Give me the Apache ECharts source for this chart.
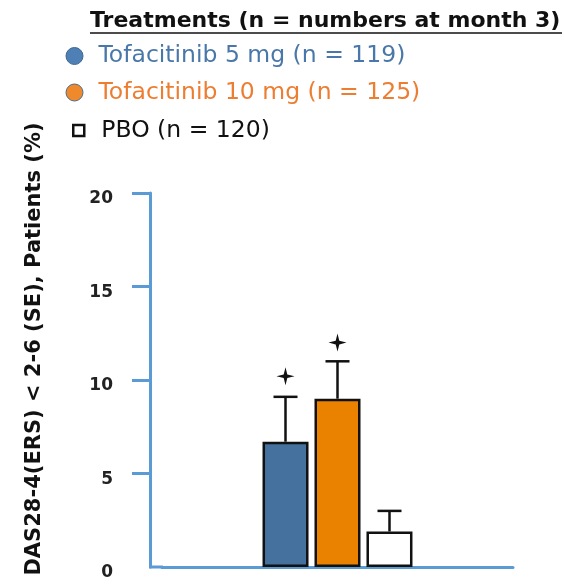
<!DOCTYPE html>
<html>
<head>
<meta charset="utf-8">
<script src="https://cdn.jsdelivr.net/npm/echarts@6/dist/echarts.min.js"></script>
<style>
  html, body { margin: 0; padding: 0; background: #fff; }
  #chart { width: 564px; height: 584px; }
</style>
</head>
<body>
<div id="chart"></div>
<script>
// Patients reaching DAS28-4(ESR) < 2.6 at month 3, by treatment arm
const treatments = ['Tofacitinib 5 mg (n = 119)', 'Tofacitinib 10 mg (n = 125)', 'PBO (n = 120)'];
const responders = [6.7, 9.0, 1.9];        // % of patients
const upperSE = [9.1, 11.0, 3.0];          // bar value + SE
const significance = [10.2, 12.0, null];   // position of the significance mark
const yTicks = [0, 5, 10, 15, 20];

const barColors = ['#44719e', '#ea8200', '#ffffff'];
const textColors = ['#4a77a9', '#ec7d31', '#111111'];
const BAR_W = 46, BAR_GAP = 6;
const FONT = 'DejaVu Sans';

const chart = echarts.init(document.getElementById('chart'));

const barSeries = treatments.map((name, i) => ({
  name: name,
  type: 'bar',
  barWidth: BAR_W,
  barGap: (BAR_GAP / BAR_W * 100).toFixed(1) + '%',
  data: [responders[i]],
  itemStyle: { color: barColors[i], borderColor: '#111', borderWidth: 2.5 },
  z: 2
}));

// SE whiskers with caps, plus the significance marks above them
const errorSeries = {
  type: 'custom',
  z: 3,
  silent: true,
  data: treatments.map((t, i) => [0, responders[i], upperSE[i], significance[i] == null ? NaN : significance[i]]),
  renderItem: function (params, api) {
    const i = params.dataIndex;
    const cx = api.coord([0, 0])[0] + (i - (treatments.length - 1) / 2) * (BAR_W + BAR_GAP);
    const yBar = api.coord([0, api.value(1)])[1];
    const yErr = api.coord([0, api.value(2)])[1];
    const stroke = { stroke: '#111', lineWidth: 2.5 };
    const children = [
      { type: 'line', shape: { x1: cx, y1: yBar, x2: cx, y2: yErr }, style: stroke },
      { type: 'line', shape: { x1: cx - 12, y1: yErr, x2: cx + 12, y2: yErr }, style: stroke }
    ];
    const m = api.value(3);
    if (!isNaN(m)) {
      const cy = api.coord([0, m])[1];
      const r = 9, w = 1.8;
      children.push({
        type: 'polygon',
        shape: { points: [[cx, cy - r], [cx + w, cy - w], [cx + r, cy], [cx + w, cy + w],
                          [cx, cy + r], [cx - w, cy + w], [cx - r, cy], [cx - w, cy - w]] },
        style: { fill: '#111' }
      });
    }
    return { type: 'group', children: children };
  }
};

function legendFor(i, top, left, size, gap, icon, itemStyle) {
  return {
    orient: 'vertical', left: left, top: top, padding: 0,
    itemWidth: size, itemHeight: size,
    selectedMode: false,
    data: [{ name: treatments[i], icon: icon, itemStyle: itemStyle,
             textStyle: { color: textColors[i] } }],
    textStyle: { fontFamily: FONT, fontSize: 23.5, padding: [0, 0, 0, gap] }
  };
}

chart.setOption({
  animation: false,
  grid: { left: 162, right: 51, top: 193, bottom: 17 },
  title: {
    text: 'Treatments (n = numbers at month 3)',
    left: 85, top: 5.5,
    textStyle: { fontFamily: FONT, fontWeight: 'bold', fontSize: 22, color: '#111' }
  },
  legend: [
    legendFor(0, 44, 65.5, 17, 10.5, 'circle', { color: '#4f80b5', borderColor: '#3a6792', borderWidth: 1 }),
    legendFor(1, 80.5, 65.5, 17, 10.5, 'circle', { color: '#ef8a2c', borderColor: '#4a6a8a', borderWidth: 1 }),
    legendFor(2, 118.5, 72, 11, 12, 'rect', { color: '#fff', borderColor: '#111', borderWidth: 2.5 })
  ],
  xAxis: {
    type: 'category',
    data: [''],
    axisLine: { lineStyle: { color: '#5b9bd5', width: 3 } },
    axisTick: { show: false },
    axisLabel: { show: false }
  },
  yAxis: {
    type: 'value',
    offset: 12,
    min: yTicks[0], max: yTicks[yTicks.length - 1], interval: yTicks[1] - yTicks[0],
    splitLine: { show: false },
    axisLine: { show: true, lineStyle: { color: '#5b9bd5', width: 3 } },
    axisTick: { show: true, inside: false, length: 18, customValues: yTicks.slice(1),
                lineStyle: { color: '#5b9bd5', width: 3 } },
    axisLabel: { margin: 37, verticalAlign: 'top', lineHeight: 12,
                 fontFamily: FONT, fontWeight: 'bold', fontSize: 17, color: '#222' }
  },
  graphic: [
    {
      // underline of the legend heading
      type: 'line', x: 90, y: 33,
      shape: { x1: 0, y1: 0, x2: 472, y2: 0 },
      style: { stroke: '#111', lineWidth: 1.5 }
    },
    {
      // x axis baseline continues to the y axis
      type: 'line', x: 149, y: 567,
      shape: { x1: 0, y1: 0, x2: 14, y2: 0 },
      style: { stroke: '#5b9bd5', lineWidth: 3 }
    },
    {
      type: 'text', x: 35, y: 349, rotation: Math.PI / 2,
      style: {
        text: 'DAS28-4(ERS) < 2-6 (SE), Patients (%)',
        fontFamily: FONT, fontWeight: 'bold', fontSize: 21, fill: '#111',
        align: 'center', verticalAlign: 'middle'
      }
    }
  ],
  series: barSeries.concat([errorSeries])
});
</script>
</body>
</html>
